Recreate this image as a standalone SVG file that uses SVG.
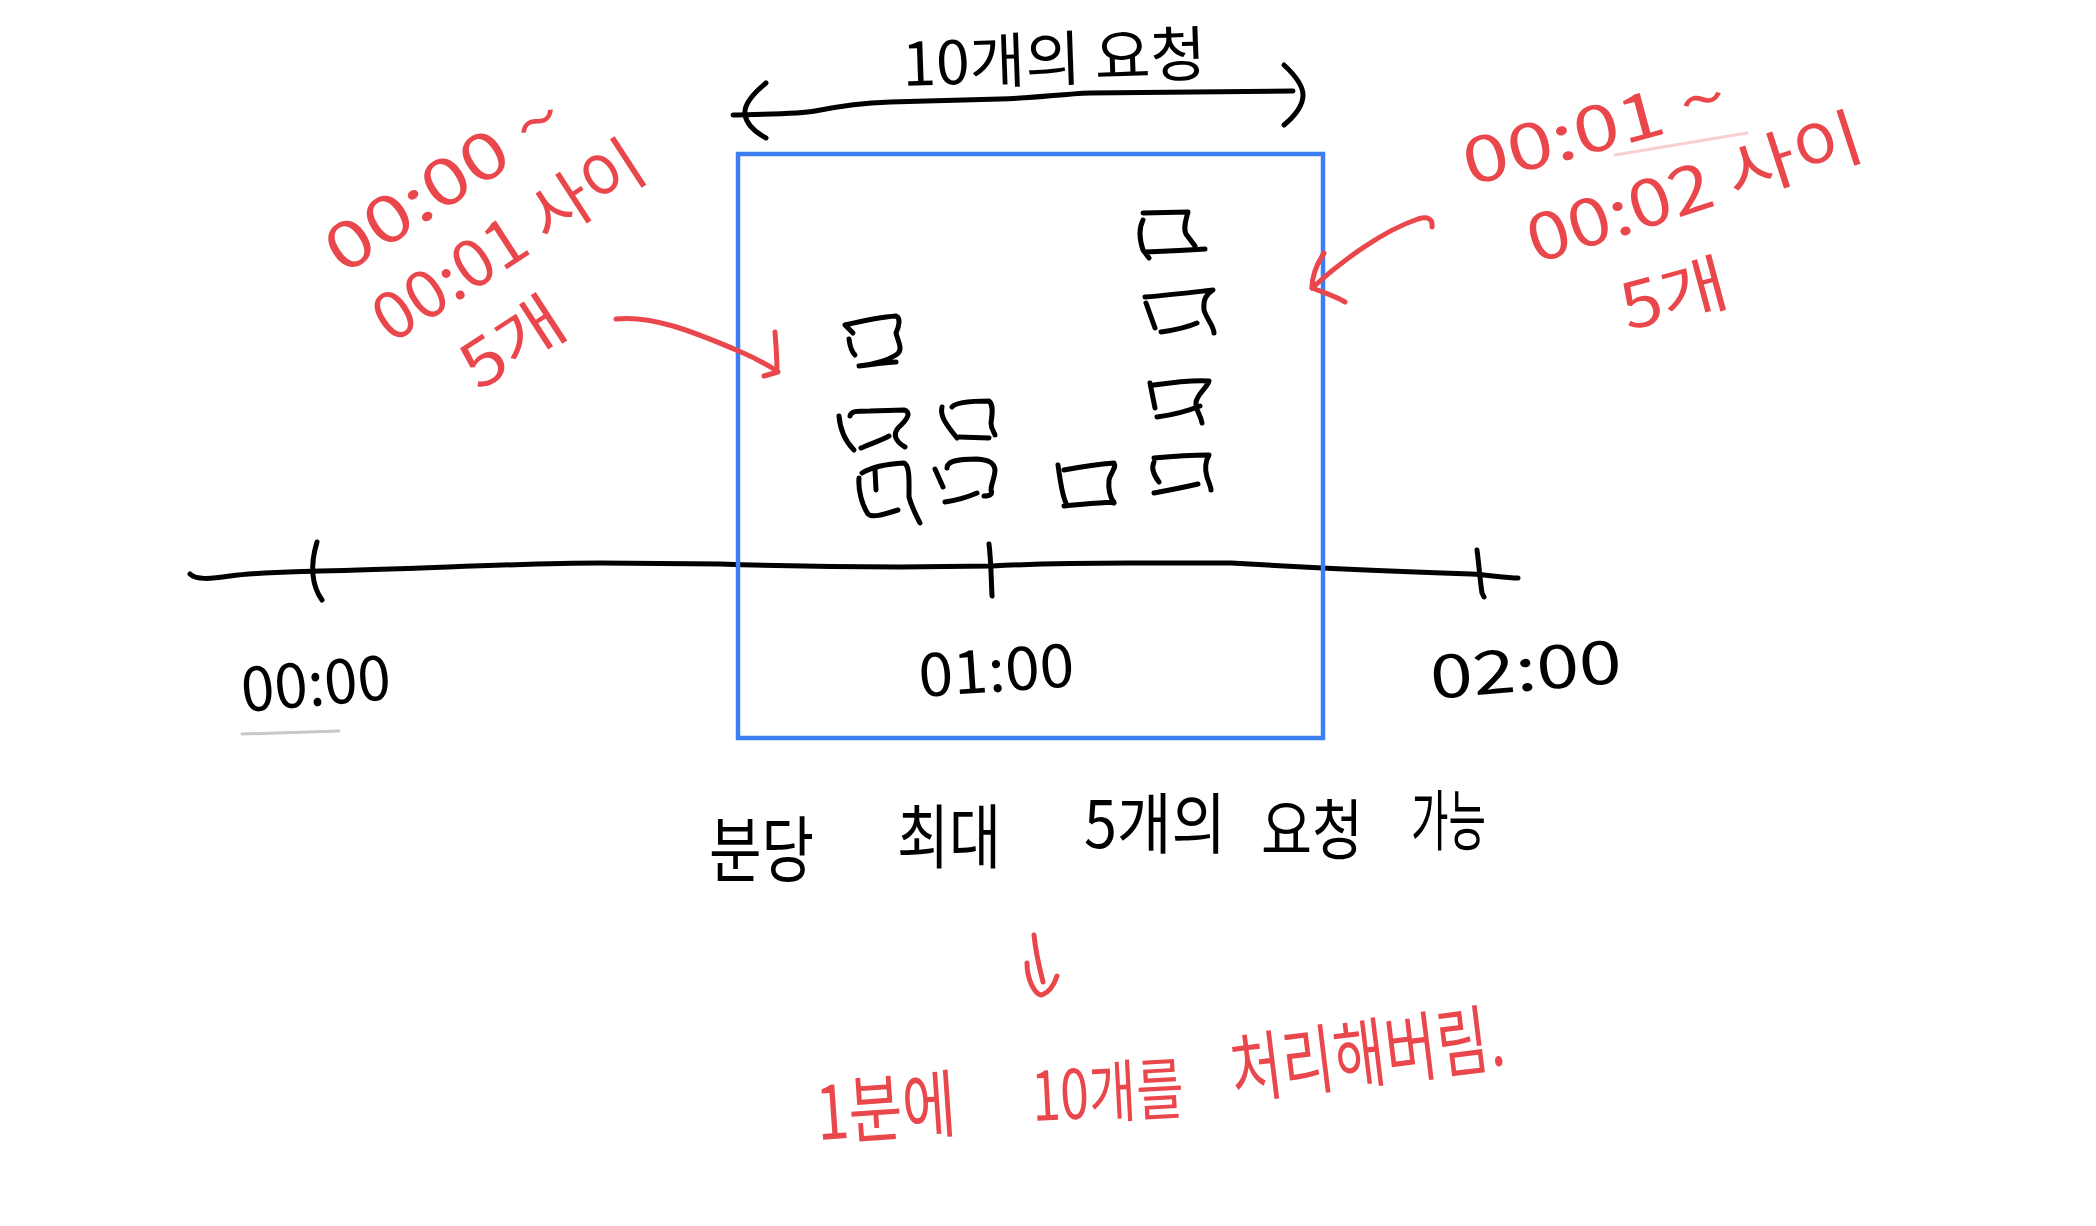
<svg xmlns="http://www.w3.org/2000/svg" width="2096" height="1226" viewBox="0 0 2096 1226">
<style>
.ink{fill:none;stroke:#000;stroke-width:5;stroke-linecap:round;stroke-linejoin:round}
.red{fill:none;stroke:#E9474B;stroke-width:5;stroke-linecap:round;stroke-linejoin:round}
.t{font-family:"Noto Sans CJK KR","Noto Sans",sans-serif;font-weight:400}
.tb{fill:#000}
.tr{fill:#E9474B}
</style>
<rect width="2096" height="1226" fill="#fff"/>
<g id="timeline">
<path class="ink" d="M190,574 C196,580 210,579 230,576 C260,572 290,572 320,571 C420,569 520,563 600,563 L720,564 C780,566 850,567 900,567 L992,566 C1050,563 1090,563 1130,563 L1231,563 C1270,565 1300,567 1322,568 C1380,571 1440,573 1471,574 C1490,575 1505,578 1518,578"/>
<path class="ink" d="M317,542 C313,555 312,565 313,575 C314,585 317,593 322,600"/>
<path class="ink" d="M989,544 C991,560 991,575 992,596"/>
<path class="ink" d="M1477,550 C1479,565 1480,580 1482,593 L1484,597"/>
</g>
<g id="box">
<rect x="738" y="154" width="585" height="584" fill="none" stroke="#3D7FF2" stroke-width="4.5"/>
</g>
<g id="brace">
<path class="ink" d="M733,115 C770,114 800,114 815,111 C840,106 860,103 890,102 L1000,99 C1040,98 1060,94 1090,93 L1293,91"/>
<path class="ink" d="M766,83 C750,96 744,106 745,114 C746,124 755,132 766,138"/>
<path class="ink" d="M1284,65 C1298,78 1303,88 1303,95 C1303,105 1296,115 1284,125"/>
<text class="t tb" x="903" y="86" font-size="60" textLength="304" lengthAdjust="spacingAndGlyphs" transform="rotate(-2 903 86)">10개의 요청</text>
</g>
<g id="squares">
<g id="sq1"><path class="ink" d="M1143,213 L1188,212 C1186,220 1183,228 1186,234 L1195,246 M1143,220 C1139,228 1139,238 1143,250 L1149,258 M1145,252 C1170,251 1190,250 1205,249"/></g>
<g id="sq2"><path class="ink" d="M1145,297 C1170,295 1195,292 1213,290 C1207,294 1203,298 1204,310 C1206,318 1214,326 1214,333 M1146,303 L1155,328 M1161,332 C1175,330 1188,327 1197,323"/></g>
<g id="sq3"><path class="ink" d="M1150,383 L1155,408 M1154,385 C1175,382 1195,380 1209,381 C1207,388 1198,393 1196,402 C1195,410 1201,415 1202,423 M1157,417 C1172,415 1188,411 1200,406"/></g>
<g id="sq4"><path class="ink" d="M1154,458 C1175,456 1195,455 1209,455 C1205,462 1205,470 1207,477 C1209,483 1211,487 1211,490 M1154,462 C1151,468 1153,474 1159,482 M1154,493 C1170,490 1185,487 1198,484"/></g>
<g id="sq5"><path class="ink" d="M845,325 C862,321 880,317 896,316 C901,318 899,326 896,333 C898,342 904,350 896,355 C888,360 875,364 859,366 M845,325 L853,333 M849,339 C850,347 852,352 855,355 M859,366 C875,364 888,362 896,362"/></g>
<g id="sq6"><path class="ink" d="M839,416 C840,428 844,440 854,450 M850,416 C851,411 856,411 870,411 L904,410 C911,412 909,418 898,428 C894,433 893,440 905,447 M861,448 C870,444 880,441 889,436"/></g>
<g id="sq7"><path class="ink" d="M942,407 C940,415 944,422 957,438 M952,407 C955,403 965,401 989,401 C994,405 992,415 991,423 C991,430 995,433 995,435 M959,437 L989,438"/></g>
<g id="sq8"><path class="ink" d="M859,478 C858,490 862,505 868,514 C872,518 882,515 898,510 M862,473 C870,468 885,464 904,463 C910,466 909,480 909,497 C912,508 916,515 920,523 M875,470 L876,490"/></g>
<g id="sq9"><path class="ink" d="M935,469 L943,487 M947,468 C947,462 955,459 977,459 C988,460 994,462 995,470 C995,478 991,483 991,490 C993,494 990,496 984,496 M945,502 C958,500 968,497 977,493"/></g>
<g id="sq10"><path class="ink" d="M1058,465 C1060,480 1062,495 1066,503 M1064,470 C1080,467 1100,464 1114,463 C1117,468 1110,473 1109,480 C1108,490 1110,497 1114,503 M1064,506 C1080,504 1100,503 1114,502"/></g>
</g>
<g id="labels">
<text class="t tb" x="243" y="712" font-size="62" textLength="150" lengthAdjust="spacingAndGlyphs" transform="rotate(-5 243 712)">00:00</text>
<path d="M242,734 L339,731" fill="none" stroke="#C8C8C8" stroke-width="3" stroke-linecap="round"/>
<text class="t tb" x="920" y="697" font-size="60" textLength="156" lengthAdjust="spacingAndGlyphs" transform="rotate(-4 920 697)">01:00</text>
<text class="t tb" x="1432" y="699" font-size="60" textLength="192" lengthAdjust="spacingAndGlyphs" transform="rotate(-5 1432 699)">02:00</text>
</g>
<g id="left-note">
<text class="t tr" font-size="64" text-anchor="middle" textLength="270" lengthAdjust="spacingAndGlyphs" transform="translate(456,202) rotate(-33)">00:00 ~</text>
<text class="t tr" font-size="64" text-anchor="middle" textLength="310" lengthAdjust="spacingAndGlyphs" transform="translate(521,260) rotate(-33)">00:01 사이</text>
<text class="t tr" font-size="64" text-anchor="middle" textLength="110" lengthAdjust="spacingAndGlyphs" transform="translate(525,362) rotate(-33)">5개</text>
</g>
<g id="right-note">
<text class="t tr" font-size="64" text-anchor="middle" textLength="270" lengthAdjust="spacingAndGlyphs" transform="translate(1600,151) rotate(-15)">00:01 ~</text>
<path d="M1615,155 L1747,133" fill="none" stroke="#F9CFCF" stroke-width="3" stroke-linecap="round"/>
<text class="t tr" font-size="64" text-anchor="middle" textLength="350" lengthAdjust="spacingAndGlyphs" transform="translate(1702,210) rotate(-18)">00:02 사이</text>
<text class="t tr" font-size="64" text-anchor="middle" textLength="108" lengthAdjust="spacingAndGlyphs" transform="translate(1680,317) rotate(-15)">5개</text>
</g>
<g id="caption">
<text class="t tb" x="709" y="876" font-size="72" textLength="105" lengthAdjust="spacingAndGlyphs">분당</text>
<text class="t tb" x="897" y="863" font-size="70" textLength="104" lengthAdjust="spacingAndGlyphs">최대</text>
<text class="t tb" x="1084" y="848" font-size="66" textLength="142" lengthAdjust="spacingAndGlyphs">5개의</text>
<text class="t tb" x="1261" y="854" font-size="66" textLength="102" lengthAdjust="spacingAndGlyphs">요청</text>
<text class="t tb" x="1411" y="845" font-size="66" textLength="75" lengthAdjust="spacingAndGlyphs">가능</text>
</g>
<g id="result">
<text class="t tr" x="818" y="1140" font-size="74" textLength="140" lengthAdjust="spacingAndGlyphs" transform="rotate(-4 818 1140)">1분에</text>
<text class="t tr" x="1033" y="1121" font-size="68" textLength="152" lengthAdjust="spacingAndGlyphs" transform="rotate(-3 1033 1121)">10개를</text>
<text class="t tr" x="1234" y="1098" font-size="76" textLength="275" lengthAdjust="spacingAndGlyphs" transform="rotate(-7 1234 1098)">처리해버림.</text>
</g>
<g id="connectors">
<path class="red" d="M616,319 C650,315 690,330 741,352 C755,358 766,364 777,371"/>
<path class="red" d="M775,332 C776,345 777,358 777,370 M764,376 L778,372"/>
<path class="red" d="M1432,227 C1433,219 1428,216 1418,219 C1385,230 1345,258 1312,288"/>
<path class="red" d="M1324,253 C1316,265 1312,278 1312,288 C1322,292 1335,296 1345,302"/>
<path class="red" d="M1034,935 C1036,955 1040,970 1043,982 M1027,963 C1027,980 1035,995 1042,995 C1050,992 1055,982 1057,976"/>
</g>
</svg>
